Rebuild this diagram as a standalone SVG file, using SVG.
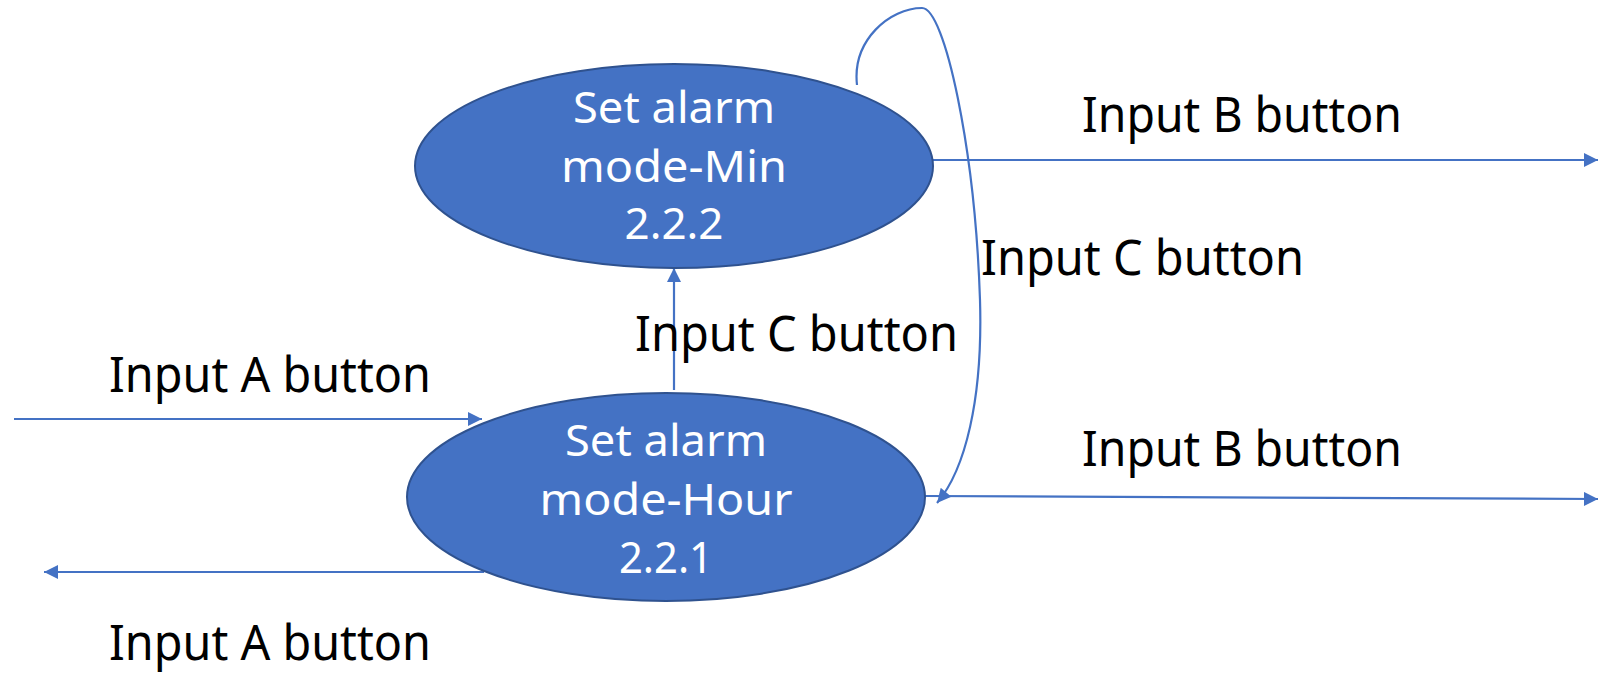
<svg xmlns="http://www.w3.org/2000/svg" width="1598" height="674" viewBox="0 0 1598 674">
<style>
.node{fill:#4472C4;stroke:#2F528F;stroke-width:2}
.nt{font-family:"Noto Sans","Open Sans",sans-serif;font-size:43px;fill:#FFFFFF;text-anchor:middle}
.lbl{font-family:"Noto Sans","Open Sans",sans-serif;font-size:49px;fill:#000000}
.edge{fill:none;stroke:#4472C4;stroke-width:2.2}
</style>
<defs>
<marker id="arrL" viewBox="0 0 10 10" refX="10" refY="5" markerWidth="16" markerHeight="14" orient="auto" markerUnits="userSpaceOnUse">
<path d="M0,0 L10,5 L0,10 z" fill="#4472C4"/>
</marker>
</defs>
<g id="connectors">
<path class="edge" d="M14,419 L482,419" marker-end="url(#arrL)"/>
<path class="edge" d="M484,572 L44,572" marker-end="url(#arrL)"/>
<path class="edge" d="M674,390 L674,268" marker-end="url(#arrL)"/>
<path class="edge" d="M932,160 L1598,160" marker-end="url(#arrL)"/>
<path class="edge" d="M925,496 L1598,499" marker-end="url(#arrL)"/>
<path class="edge" d="M857,85 C852,40 890,8 922,8 C945,8 975,150 980,300 C983,400 965,470 937,503" marker-end="url(#arrL)"/>
</g>
<g id="node-min">
<ellipse class="node" cx="674" cy="166" rx="259" ry="102"/>
<text class="nt" x="674" y="123" textLength="202" lengthAdjust="spacingAndGlyphs">Set alarm</text>
<text class="nt" x="674" y="182" textLength="226" lengthAdjust="spacingAndGlyphs">mode-Min</text>
<text class="nt" x="674" y="239" textLength="99" lengthAdjust="spacingAndGlyphs">2.2.2</text>
</g>
<g id="node-hour">
<ellipse class="node" cx="666" cy="497" rx="259" ry="104"/>
<text class="nt" x="666" y="456" textLength="202" lengthAdjust="spacingAndGlyphs">Set alarm</text>
<text class="nt" x="666" y="515" textLength="253" lengthAdjust="spacingAndGlyphs">mode-Hour</text>
<text class="nt" x="666" y="573" textLength="94" lengthAdjust="spacingAndGlyphs">2.2.1</text>
</g>
<g id="labels">
<text class="lbl" x="109" y="392" textLength="322" lengthAdjust="spacingAndGlyphs">Input A button</text>
<text class="lbl" x="109" y="660" textLength="322" lengthAdjust="spacingAndGlyphs">Input A button</text>
<text class="lbl" x="635" y="351" textLength="323" lengthAdjust="spacingAndGlyphs">Input C button</text>
<text class="lbl" x="981" y="275" textLength="323" lengthAdjust="spacingAndGlyphs">Input C button</text>
<text class="lbl" x="1082" y="132" textLength="320" lengthAdjust="spacingAndGlyphs">Input B button</text>
<text class="lbl" x="1082" y="466" textLength="320" lengthAdjust="spacingAndGlyphs">Input B button</text>
</g>
</svg>
